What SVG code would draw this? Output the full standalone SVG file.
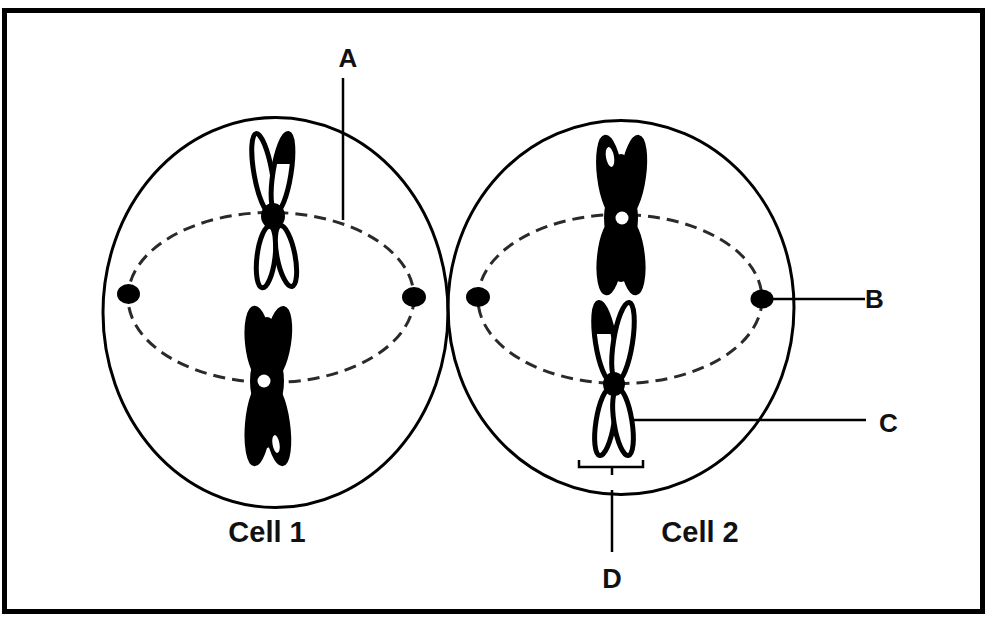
<svg xmlns="http://www.w3.org/2000/svg" width="987" height="617" viewBox="0 0 987 617">
  <style>
    .frame { fill: #fff; stroke: #000; stroke-width: 5; }
    .cell { fill: none; stroke: #000; stroke-width: 3; }
    .spindle { fill: none; stroke: #2a2a2a; stroke-width: 3; stroke-dasharray: 12 7; }
    .pole { fill: #000; }
    .arm { fill: #fff; stroke: #000; stroke-width: 5; }
    .arm-dark { fill: #000; stroke: #000; stroke-width: 3; }
    .hole { fill: #fff; }
    .ink { fill: #000; }
    .lead { fill: none; stroke: #000; stroke-width: 2.5; }
    .lbl { font-family: "Liberation Sans", Arial, sans-serif; font-weight: bold; fill: #111; }
  </style>
  <defs>
    <clipPath id="capC1">
      <ellipse cx="282" cy="173" rx="9" ry="40" transform="rotate(9 282 173)"/>
    </clipPath>
    <clipPath id="capC4">
      <ellipse cx="605" cy="342" rx="9.5" ry="40" transform="rotate(-9 605 342)"/>
    </clipPath>
  </defs>

  <!-- outer frame -->
  <rect class="frame" x="4.5" y="10.5" width="978" height="601"/>

  <!-- cell 1 -->
  <g id="cell1">
    <ellipse class="cell" cx="275.5" cy="312.5" rx="172.5" ry="195"/>
    <ellipse class="spindle" cx="271" cy="297.5" rx="143" ry="85"/>
    <ellipse class="pole" cx="128.5" cy="294" rx="11.5" ry="10"/>
    <ellipse class="pole" cx="414" cy="297" rx="12" ry="10"/>
    <text class="lbl" x="267" y="542" font-size="29" text-anchor="middle">Cell 1</text>
  </g>

  <!-- cell 2 -->
  <g id="cell2">
    <ellipse class="cell" cx="621" cy="307.5" rx="173" ry="187"/>
    <ellipse class="spindle" cx="620" cy="299" rx="142" ry="84.5"/>
    <ellipse class="pole" cx="478" cy="297" rx="12" ry="10"/>
    <ellipse class="pole" cx="762" cy="299" rx="11.5" ry="9.5"/>
    <text class="lbl" x="700" y="542" font-size="29" text-anchor="middle">Cell 2</text>
  </g>

  <!-- chromosome, cell 1, upper (open chromatids) -->
  <g id="chromosome1">
    <ellipse class="arm" cx="263" cy="173" rx="9" ry="40" transform="rotate(-10 263 173)"/>
    <ellipse class="arm" cx="282" cy="173" rx="9" ry="40" transform="rotate(9 282 173)"/>
    <rect class="ink" x="270" y="128" width="30" height="36" clip-path="url(#capC1)"/>
    <ellipse class="arm" cx="266" cy="257" rx="9" ry="31" transform="rotate(7 266 257)"/>
    <ellipse class="arm" cx="286" cy="256" rx="9" ry="31" transform="rotate(-11 286 256)"/>
    <ellipse class="ink" cx="273" cy="216" rx="12" ry="13"/>
  </g>

  <!-- chromosome, cell 1, lower (dark) -->
  <g id="chromosome2">
    <ellipse class="arm-dark" cx="258" cy="343" rx="11.5" ry="36" transform="rotate(-6 258 343)"/>
    <ellipse class="arm-dark" cx="278" cy="343" rx="11.5" ry="36" transform="rotate(9 278 343)"/>
    <ellipse class="arm-dark" cx="258" cy="424" rx="11.5" ry="41" transform="rotate(5 258 424)"/>
    <ellipse class="arm-dark" cx="277" cy="424" rx="11.5" ry="41" transform="rotate(-8 277 424)"/>
    <ellipse class="ink" cx="267" cy="381" rx="17" ry="34"/>
    <ellipse class="ink" cx="267" cy="343" rx="12" ry="26"/>
    <ellipse class="ink" cx="267" cy="420" rx="12" ry="28"/>
    <circle class="hole" cx="264" cy="381" r="6.5"/>
    <ellipse class="hole" cx="276" cy="444" rx="3.5" ry="9" transform="rotate(-10 276 444)"/>
  </g>

  <!-- chromosome, cell 2, upper (dark) -->
  <g id="chromosome3">
    <ellipse class="arm-dark" cx="610" cy="176" rx="11.5" ry="40" transform="rotate(-7 610 176)"/>
    <ellipse class="arm-dark" cx="633" cy="176" rx="11.5" ry="40" transform="rotate(8 633 176)"/>
    <ellipse class="arm-dark" cx="610" cy="257" rx="11.5" ry="37" transform="rotate(6 610 257)"/>
    <ellipse class="arm-dark" cx="632" cy="257" rx="11.5" ry="37" transform="rotate(-6 632 257)"/>
    <ellipse class="ink" cx="621" cy="218" rx="17" ry="34"/>
    <ellipse class="ink" cx="621" cy="180" rx="12" ry="26"/>
    <ellipse class="ink" cx="621" cy="256" rx="12" ry="26"/>
    <circle class="hole" cx="622" cy="218" r="6.5"/>
    <ellipse class="hole" cx="610" cy="157" rx="4" ry="10" transform="rotate(-10 610 157)"/>
  </g>

  <!-- chromosome, cell 2, lower (open chromatids) -->
  <g id="chromosome4">
    <ellipse class="arm" cx="605" cy="342" rx="9.5" ry="40" transform="rotate(-9 605 342)"/>
    <rect class="ink" x="590" y="298" width="30" height="36" clip-path="url(#capC4)"/>
    <ellipse class="arm" cx="623" cy="342" rx="9.5" ry="40" transform="rotate(9 623 342)"/>
    <ellipse class="arm" cx="605" cy="422" rx="9" ry="34" transform="rotate(9 605 422)"/>
    <ellipse class="arm" cx="623" cy="422" rx="9" ry="34" transform="rotate(-9 623 422)"/>
    <ellipse class="ink" cx="614" cy="384" rx="11" ry="12"/>
  </g>

  <!-- label leaders -->
  <g id="connectors">
    <line class="lead" x1="343" y1="78" x2="343" y2="220"/>
    <line class="lead" x1="770" y1="299" x2="865" y2="299"/>
    <line class="lead" x1="634" y1="420" x2="866" y2="420"/>
    <path class="lead" d="M579 460 V467 H643 V460 M612 467 V475"/>
    <line class="lead" x1="612" y1="490" x2="612" y2="552"/>
  </g>

  <!-- labels -->
  <g id="labels">
    <text class="lbl" x="348" y="67" font-size="26" text-anchor="middle">A</text>
    <text class="lbl" x="865" y="308" font-size="26">B</text>
    <text class="lbl" x="879" y="432" font-size="26">C</text>
    <text class="lbl" x="612" y="588" font-size="27" text-anchor="middle">D</text>
  </g>
</svg>
